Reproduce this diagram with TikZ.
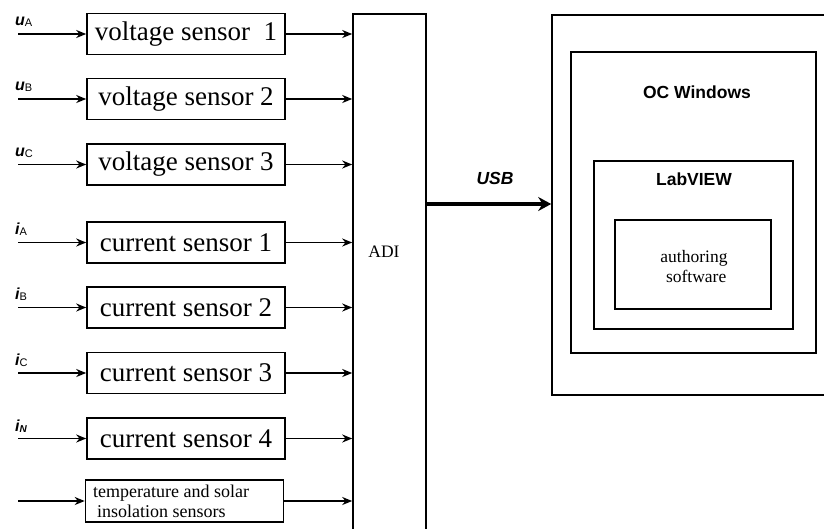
\documentclass[tikz,border=0pt]{standalone}
\usepackage{fontspec}
\setmainfont{Liberation Serif}
\setsansfont{Liberation Sans}
\usetikzlibrary{arrows.meta}
\tikzset{
  box/.style={draw, line width=1.6pt, inner sep=0pt, rectangle},
  sbox/.style={box, minimum width=198pt, minimum height=41pt, font=\fontsize{27}{29}\selectfont},
  arr/.style={line width=1.7pt, -{Stealth[length=10pt,width=8pt]}},
  usbarr/.style={line width=3.8pt, -{Stealth[length=13pt,width=14pt]}},
  lbl/.style={inner sep=0pt, anchor=base west, font=\sffamily},
  sertext/.style={inner sep=0pt, font=\fontsize{17.5}{20}\selectfont},
  santext/.style={inner sep=0pt, font=\sffamily\bfseries\fontsize{17.5}{20}\selectfont},
}
\newcommand{\insym}[2]{{\fontsize{16}{16}\selectfont\bfseries\itshape #1}\raisebox{-1pt}{\fontsize{11}{11}\selectfont #2}}
\begin{document}
\begin{tikzpicture}[x=1pt,y=-1pt]
\useasboundingbox (0,0) rectangle (824,528);
\clip (0,0) rectangle (824,528);
% ADI
\node[box, minimum width=73pt, minimum height=560pt] (adi) at (389.5,294) {};
\node[sertext] (adilbl) at (384,252) {ADI};
% sensors
\node[sbox] (v1) at (186,34) {voltage sensor\ \ 1};
\node[sbox] (v2) at (186,99) {voltage sensor 2};
\node[sbox] (v3) at (186,164.5) {voltage sensor 3};
\node[sbox] (c1) at (186,242.5) {current sensor 1};
\node[sbox] (c2) at (186,307.5) {current sensor 2};
\node[sbox] (c3) at (186,373) {current sensor 3};
\node[sbox] (c4) at (186,438.5) {current sensor 4};
\node[box, minimum width=198pt, minimum height=42pt] (tb) at (184.5,501) {};
\node[inner sep=0pt, anchor=base west, font=\fontsize{18}{20}\selectfont] (tl1) at (93,497) {temperature and solar};
\node[inner sep=0pt, anchor=base west, font=\fontsize{18}{20}\selectfont] (tl2) at (97,517) {insolation sensors};
% inputs and outputs
\foreach \n in {v1,v2,v3,c1,c2,c3,c4,tb} {
  \coordinate (in-\n) at (18,0 |- \n.west);
  \draw[arr] (in-\n) -- (\n.west);
  \draw[arr] (\n.east) -- (\n.east -| adi.west);
}
% labels
\node[lbl] (la) at (15,25) {\insym{u}{A}};
\node[lbl] (lb) at (15,90) {\insym{u}{B}};
\node[lbl] (lc) at (15,156) {\insym{u}{C}};
\node[lbl] (ia) at (15,234) {\insym{i}{A}};
\node[lbl] (ib) at (15,299) {\insym{i}{B}};
\node[lbl] (ic) at (15,365) {\insym{i}{C}};
\node[lbl] (in) at (15,431) {{\fontsize{16}{16}\selectfont\bfseries\itshape i}\raisebox{-1pt}{\fontsize{10}{10}\selectfont\bfseries\itshape N}};
% right side
\node[box, minimum width=298pt, minimum height=380pt] (outer) at (701,205) {};
\node[box, minimum width=245pt, minimum height=301pt] (os) at (693.5,202.5) {};
\node[box, minimum width=199pt, minimum height=168pt] (lv) at (693.5,245) {};
\node[box, minimum width=156pt, minimum height=89pt] (auth) at (693,264.5) {};
\node[santext] (oslbl) at (697,92) {OC Windows};
\node[santext] (lvlbl) at (694,179) {LabVIEW};
\node[sertext, align=center] (authlbl) at (694,267) {authoring\\\ software};
% USB
\coordinate (usb) at (0,204);
\draw[usbarr] (adi.east |- usb) -- (outer.west |- usb);
\node[santext, font=\sffamily\bfseries\itshape\fontsize{17.5}{20}\selectfont] (usblbl) at (495,178) {USB};
\end{tikzpicture}
\end{document}
